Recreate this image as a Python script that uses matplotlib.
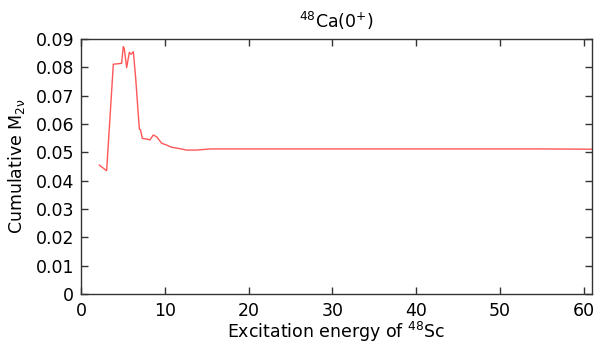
import matplotlib
matplotlib.use("Agg")
import matplotlib.pyplot as plt
from matplotlib.ticker import FuncFormatter

plt.rcParams['font.family'] = ['DejaVu Sans']
plt.rcParams['mathtext.default'] = 'regular'

energy = [2.19, 3.06, 3.86, 4.85, 5.05, 5.17, 5.45, 5.77, 5.97, 6.25, 6.53, 6.84,
          6.97, 7.10, 7.32, 7.84, 8.23, 8.63, 9.03, 9.63, 10.2, 10.8, 11.6,
          12.6, 13.8, 15.4, 20.0, 30.0, 40.0, 50.0, 55.0, 61.0]
cumulative = [0.0455, 0.0435, 0.0811, 0.0814, 0.0873, 0.0866, 0.0799, 0.0853, 0.0846,
              0.0855, 0.0761, 0.0632, 0.0582, 0.0580, 0.0549, 0.0547, 0.0544, 0.0561,
              0.0555, 0.0532, 0.0526, 0.0518, 0.0514, 0.0508, 0.0508, 0.0512, 0.0512,
              0.0512, 0.0512, 0.0512, 0.0512, 0.0511]
x_ticks = [0, 10, 20, 30, 40, 50, 60]
y_ticks = [0, 0.01, 0.02, 0.03, 0.04, 0.05, 0.06, 0.07, 0.08, 0.09]

fig = plt.figure(figsize=(5.98, 3.54), dpi=100)
ax = fig.add_axes([81/598, 1-294/354, (592-81)/598, (294-39)/354])
ax.plot(energy, cumulative, color='#ff4545', lw=1.0, alpha=0.9)
ax.set_xlim(0, 61)
ax.set_ylim(0, 0.09)
ax.set_xticks(x_ticks)
ax.set_yticks(y_ticks)
ax.yaxis.set_major_formatter(FuncFormatter(lambda v, p: '0' if v == 0 else f'{v:.2f}'))
ax.tick_params(direction='in', top=True, right=True, length=5, width=1,
               color='#333333', labelsize=12.5)
ax.tick_params(axis='x', pad=6)
ax.tick_params(axis='y', pad=5)
for s in ax.spines.values():
    s.set_color('#333333')
    s.set_linewidth(1)
ax.set_xlabel('Excitation energy of $^{48}$Sc', fontsize=12.5, labelpad=0)
ax.set_ylabel(r'Cumulative M$_{2\nu}$', fontsize=12.5, labelpad=6)
ax.set_title('$^{48}$Ca(0$^{+}$)', fontsize=12.5, pad=8)
fig.savefig('out.png', dpi=100)
